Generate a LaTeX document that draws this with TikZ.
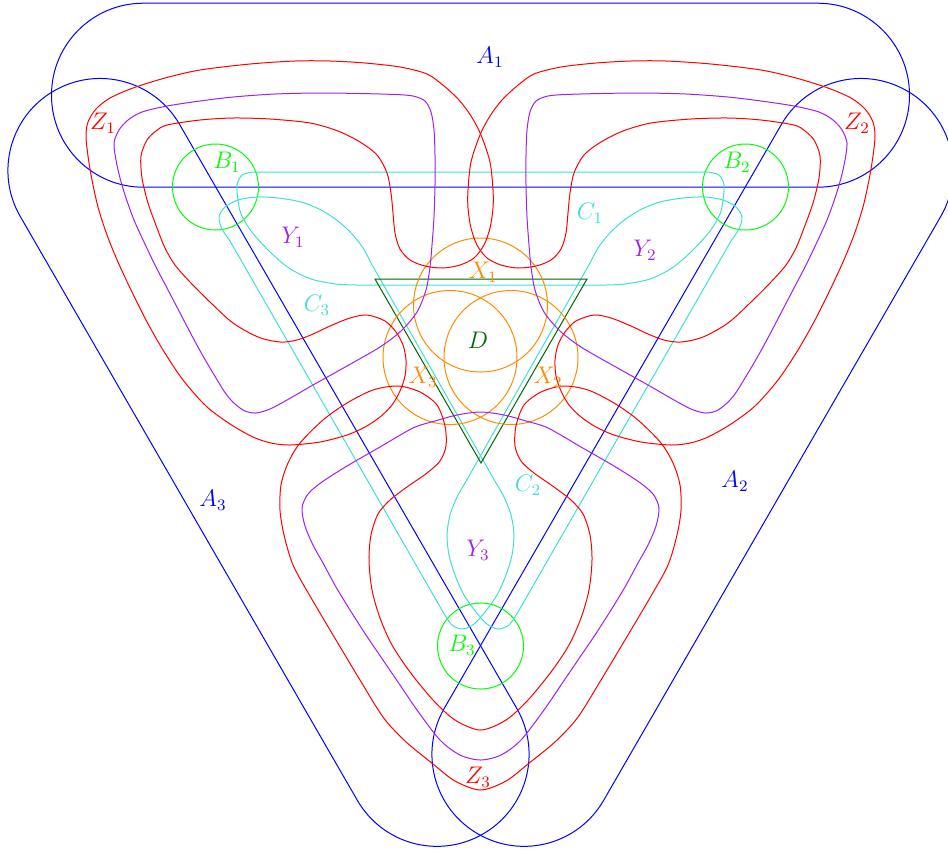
\documentclass[tikz,border=0pt]{standalone}
\usepackage{xcolor}
\definecolor{bgreen}{RGB}{0,255,0}
\definecolor{cturq}{RGB}{64,224,208}
\definecolor{ddgreen}{RGB}{0,100,0}
\definecolor{xorange}{RGB}{255,140,0}
\definecolor{ypurple}{RGB}{160,32,240}
\tikzset{
  aset/.style={draw=blue, line width=0.5pt, rounded corners=45.9pt},
  bset/.style={draw=bgreen, line width=0.5pt},
  cset/.style={draw=cturq, line width=0.5pt},
  dset/.style={draw=ddgreen, line width=0.5pt},
  xset/.style={draw=xorange, line width=0.5pt},
  yset/.style={draw=ypurple, line width=0.5pt},
  zset/.style={draw=red, line width=0.5pt},
  lab/.style={inner sep=1pt, font=\large},
}
% outlines (pixel units, y downwards)
\newcommand{\Aonepath}{(51.5,3.2) -- (909.5,3.2) -- (909.5,187.2) -- (51.5,187.2) -- cycle}
\newcommand{\Conepath}{(253,172) -- (708,172)
  -- plot[smooth, tension=0.5] coordinates {(708,172) (719,175) (724,185) (723,200) (720,214)
     (710,231) (692,251) (672,268) (650,279) (625,284) (605,285)}
  -- (356,285)
  -- plot[smooth, tension=0.5] coordinates {(356,285) (336,284) (311,279) (289,268) (269,251)
     (251,231) (241,214) (238,200) (237,185) (242,175) (253,172)} -- cycle}
\newcommand{\Ctwopath}{(731,241) -- (518,612)
  -- plot[smooth, tension=0.5] coordinates {(518,612) (509,625) (498,629) (487,624) (476,612)
     (464,595) (455,575) (449,555) (447,535) (450,515) (457,497) (465,483)}
  -- (590,263)
  -- plot[smooth, tension=0.5] coordinates {(590,263) (598,248) (609,234) (623,221) (640,210)
     (660,202) (683,198) (705,197) (723,200) (736,207) (742,217) (739,229) (731,241)} -- cycle}
\newcommand{\Yonepath}{plot[smooth cycle, tension=0.5] coordinates {
  (142,112) (167,106) (200,101) (233,97) (275,94) (320,93) (360,93.5) (395,94.5) (413,96)
  (425,101) (431,112) (434,130) (435,155) (435,185) (434,217) (432,245) (430,267) (426,290)
  (417,312) (401,331) (380,347) (347,366) (313,385) (287,400) (270,409) (256,413) (245,411)
  (235,404) (226,394) (216,378) (203,356) (191,334) (179,311) (167,288) (155,265) (144,242)
  (134,220) (126,198) (120,178) (116,160) (114,143) (119,130) (128,120)}}
\newcommand{\Ythreepath}{plot[smooth cycle, tension=0.5] coordinates {
  (480.5,412) (457,415) (435,421) (413,428) (380,447) (347,466) (322,482) (308,494) (302,508)
  (305,526) (313,545) (323,563) (336,587) (350,610) (366,635) (383,660) (400,685) (417,710)
  (440,740) (460,755) (480.5,760) (501,755) (521,740) (544,710) (561,685) (578,660) (595,635)
  (611,610) (625,587) (638,563) (648,545) (656,526) (659,508) (653,494) (639,482) (614,466)
  (581,447) (548,428) (526,421) (504,415)}}
\newcommand{\Zonepath}{plot[smooth cycle, tension=0.5] coordinates {
  (443,268) (460,265) (474,258) (484,245) (490,228) (493,208) (493,190) (490,162) (481,135)
  (471,116) (459,100) (444,86) (427,74) (400,67) (365,63) (330,61) (295,61) (250,64) (200,70)
  (165,78) (133,88) (110,98) (96,109) (88,122) (86,136) (88,156) (92,180) (98,207) (107,235)
  (118,262) (131,290) (146,320) (163,350) (183,380) (206,406) (230,424) (253,437) (271,443)
  (290,445) (320,442) (347,435) (365,427) (380,417) (392,405) (400,391) (405,376) (406,360)
  (403,345) (396,332) (385,321) (367,315) (350,318) (330,326) (313,334) (297,340) (280,342)
  (258,337) (233,323) (211,303) (190,282) (175,265) (165,248) (157,228) (148,203) (142,178)
  (141,156) (147,140) (156,131) (167,125) (200,120) (233,118) (270,119) (310,123) (338,131)
  (360,142) (377,155) (387,173) (391,193) (393,213) (395,233) (400,249) (410,260) (425,266)}}
\newcommand{\Zthreepath}{plot[smooth cycle, tension=0.5] coordinates {
  (480.5,790) (455,781) (433,764) (405,741) (383,717) (360,680) (336,640) (310,596) (293,565)
  (284,535) (280,510) (281,485) (288,463) (300,443) (323,420) (347,403) (373,390) (398,386)
  (420,392) (437,405) (445,426) (446,446) (440,461) (427,473) (407,487) (390,500) (378,514)
  (371,535) (369,560) (372,590) (380,618) (392,645) (410,672) (433,700) (455,720) (480.5,730)
  (506,720) (528,700) (551,672) (569,645) (581,618) (589,590) (592,560) (590,535) (583,514)
  (571,500) (554,487) (534,473) (521,461) (515,446) (516,426) (524,405) (541,392) (563,386)
  (588,390) (614,403) (638,420) (661,443) (673,463) (680,485) (681,510) (677,535) (668,565)
  (651,596) (625,640) (601,680) (578,717) (556,741) (528,764) (506,781)}}

\begin{document}
\begin{tikzpicture}[x=0.5pt, y=-0.5pt]
  \useasboundingbox (0,0) rectangle (948,853);

  % A: three stadiums
  \draw[aset] \Aonepath;
  \draw[aset, rotate around={-120:(480.5,340)}] \Aonepath;
  \draw[aset, rotate around={120:(480.5,340)}] \Aonepath;

  % B: small circles
  \draw[bset] (215.5,187) circle[radius=43];
  \draw[bset] (745.5,187) circle[radius=43];
  \draw[bset] (480.5,646) circle[radius=43];

  % C
  \draw[cset] \Conepath;
  \draw[cset] \Ctwopath;
  \begin{scope}[xshift=480.5pt, xscale=-1]
    \draw[cset] \Ctwopath;
  \end{scope}

  % D
  \draw[dset] (375,279) -- (587,279) -- (481,463) -- cycle;

  % X
  \draw[xset] (480.5,305) circle[radius=67];
  \draw[xset] (511,357.5) circle[radius=67];
  \draw[xset] (450,357.5) circle[radius=67];

  % Y
  \draw[yset] \Yonepath;
  \begin{scope}[xshift=480.5pt, xscale=-1]
    \draw[yset] \Yonepath;
  \end{scope}
  \draw[yset] \Ythreepath;

  % Z
  \draw[zset] \Zonepath;
  \begin{scope}[xshift=480.5pt, xscale=-1]
    \draw[zset] \Zonepath;
  \end{scope}
  \draw[zset] \Zthreepath;

  % labels
  \node[lab, text=blue] (lA1) at (490,57) {$A_1$};
  \node[lab, text=blue] (lA2) at (735,481) {$A_2$};
  \node[lab, text=blue] (lA3) at (213,500) {$A_3$};
  \node[lab, text=bgreen] (lB1) at (227,162) {$B_1$};
  \node[lab, text=bgreen] (lB2) at (737,162) {$B_2$};
  \node[lab, text=bgreen] (lB3) at (462,645) {$B_3$};
  \node[lab, text=cturq] (lC1) at (590,213) {$C_1$};
  \node[lab, text=cturq] (lC2) at (528,485) {$C_2$};
  \node[lab, text=cturq] (lC3) at (317,305) {$C_3$};
  \node[lab, text=ddgreen] (lD) at (478,340) {$D$};
  \node[lab, text=xorange] (lX1) at (483,272) {$X_1$};
  \node[lab, text=xorange] (lX2) at (548,377) {$X_2$};
  \node[lab, text=xorange] (lX3) at (423,377) {$X_3$};
  \node[lab, text=ypurple] (lY1) at (293,237) {$Y_1$};
  \node[lab, text=ypurple] (lY2) at (645,250) {$Y_2$};
  \node[lab, text=ypurple] (lY3) at (478,550) {$Y_3$};
  \node[lab, text=red] (lZ1) at (103,123) {$Z_1$};
  \node[lab, text=red] (lZ2) at (857,123) {$Z_2$};
  \node[lab, text=red] (lZ3) at (478,777) {$Z_3$};
\end{tikzpicture}
\end{document}
